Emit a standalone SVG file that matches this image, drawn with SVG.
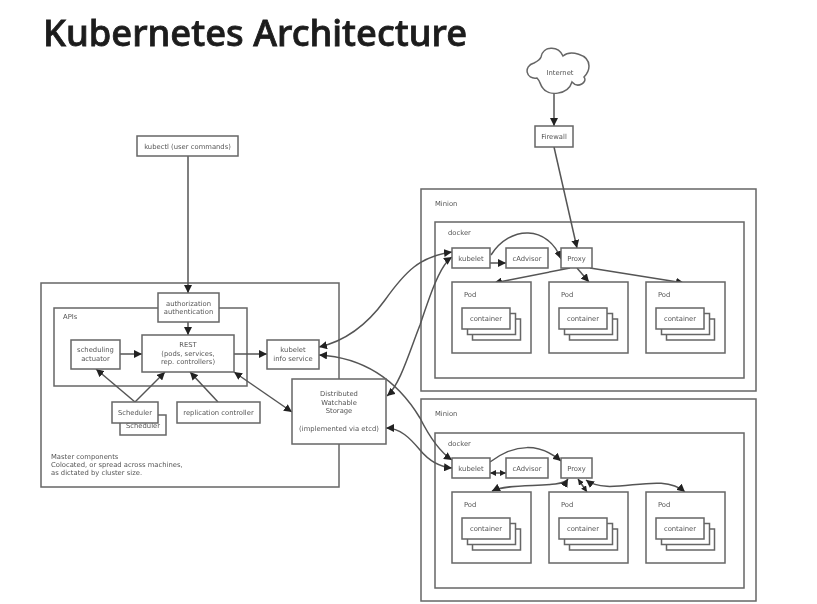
<svg xmlns="http://www.w3.org/2000/svg" width="817" height="604" viewBox="0 0 817 604">
<defs>
<style>
.b{fill:#fff;stroke:#666;stroke-width:1.5}
.c{fill:none;stroke:#555;stroke-width:1.5}
.e{marker-end:url(#a)}
.d{marker-start:url(#a);marker-end:url(#a)}
.f{marker-start:url(#h);marker-end:url(#h)}
text{font-family:"DejaVu Sans",sans-serif;font-size:6.8px;fill:#555}
.m{text-anchor:middle}
</style>
<marker id="a" markerUnits="userSpaceOnUse" markerWidth="10" markerHeight="8" refX="8" refY="4" orient="auto-start-reverse"><path d="M0,0L8,4L0,8Z" fill="#222"/></marker>
<marker id="h" markerUnits="userSpaceOnUse" markerWidth="8" markerHeight="7" refX="6" refY="3" orient="auto-start-reverse"><path d="M0,0L6,3L0,6Z" fill="#222"/></marker>
<filter id="s" filterUnits="userSpaceOnUse" x="0" y="0" width="817" height="604"><feGaussianBlur stdDeviation="0.6"/></filter>
<g id="stack"><rect class="b" x="10.500" y="11" width="48" height="21"/><rect class="b" x="5.500" y="5.500" width="48" height="21"/><rect class="b" x="0" y="0" width="48" height="21"/><text class="m" x="24" y="13">container</text></g>
</defs>
<rect width="817" height="604" fill="#fff"/>
<g filter="url(#s)">
<text id="title" x="43" y="46" style="font-family:'Noto Sans',sans-serif;font-size:36px;font-weight:500;fill:#1c1c1c;stroke:#1c1c1c;stroke-width:0.8" textLength="424" lengthAdjust="spacingAndGlyphs">Kubernetes Architecture</text>
<g id="master"><rect class="b" x="41" y="283" width="298" height="204"/><text x="51" y="458.500">Master components</text><text x="51" y="466.500">Colocated, or spread across machines,</text><text x="51" y="475">as dictated by cluster size.</text></g>
<g id="apis"><rect class="b" x="54" y="308" width="193" height="78"/><text x="63" y="319">APIs</text></g>
<g id="minion1"><rect class="b" x="421" y="189" width="335" height="202"/><text x="435" y="206">Minion</text></g>
<g id="docker1"><rect class="b" x="435" y="222" width="309" height="156"/><text x="448" y="235">docker</text></g>
<g id="minion2"><rect class="b" x="421" y="399" width="335" height="202"/><text x="435" y="416">Minion</text></g>
<g id="docker2"><rect class="b" x="435" y="433" width="309" height="155"/><text x="448" y="446">docker</text></g>
<g id="connectors">
<path class="c e" d="M554,93V126"/>
<path class="c e" d="M554,147L577,248"/>
<path class="c e" d="M188,156V293"/>
<path class="c e" d="M188,322V335"/>
<path class="c e" d="M120,354H142"/>
<path class="c e" d="M234,354H267"/>
<path class="c e" d="M135,402L96,369"/>
<path class="c e" d="M135,402L165,372"/>
<path class="c e" d="M218,402L190,372"/>
<path class="c d" d="M234,372L292,412"/>
<path class="c d" d="M319,347C350,340 372,318 385,300C405,272 420,256 452,252"/>
<path class="c d" d="M387,396C400,385 410,350 420,325C430,295 440,265 452,257"/>
<path class="c d" d="M319,355C370,358 400,385 420,418C430,438 440,452 452,460"/>
<path class="c d" d="M386,428C400,428 410,438 420,450C430,462 440,467 452,468"/>
<path class="c e" d="M490,263H506"/>
<path class="c e" d="M491,255C510,225 548,225 561,259"/>
<path class="c e" d="M570,268L494,283"/>
<path class="c e" d="M577,268L589,282"/>
<path class="c e" d="M590,268L684,283"/>
<path class="c f" d="M490,473H506"/>
<path class="c e" d="M490,462C515,443 540,443 561,461"/>
<path class="c d" d="M568,479C562,489 510,482 492,491"/>
<path class="c f" d="M578,479L587,492"/>
<path class="c d" d="M586,480C610,498 660,470 685,492"/>
</g>
<g id="auth"><rect class="b" x="158" y="293" width="61" height="29"/><text class="m" x="188.500" y="305.500">authorization</text><text class="m" x="188.500" y="314">authentication</text></g>
<g id="rest"><rect class="b" x="142" y="335" width="92" height="37"/><text class="m" x="188" y="347">REST</text><text class="m" x="188" y="355.500">(pods, services,</text><text class="m" x="188" y="364">rep. controllers)</text></g>
<g id="actuator"><rect class="b" x="71" y="340" width="49" height="29"/><text class="m" x="95.500" y="352">scheduling</text><text class="m" x="95.500" y="360.500">actuator</text></g>
<g id="kubelet-info"><rect class="b" x="267" y="340" width="52" height="29"/><text class="m" x="293" y="352">kubelet</text><text class="m" x="293" y="360.500">info service</text></g>
<g id="storage"><rect class="b" x="292" y="379" width="94" height="65"/><text class="m" x="339" y="396">Distributed</text><text class="m" x="339" y="405">Watchable</text><text class="m" x="339" y="413">Storage</text><text class="m" x="339" y="431">(implemented via etcd)</text></g>
<g id="scheduler2"><rect class="b" x="120" y="415" width="46" height="20"/><text class="m" x="143" y="427.500">Scheduler</text></g>
<g id="scheduler1"><rect class="b" x="112" y="402" width="46" height="21"/><text class="m" x="135" y="414.500">Scheduler</text></g>
<g id="replication"><rect class="b" x="177" y="402" width="83" height="21"/><text class="m" x="218.500" y="414.500">replication controller</text></g>
<g id="kubectl"><rect class="b" x="137" y="136" width="101" height="20"/><text class="m" x="187.500" y="148.500">kubectl (user commands)</text></g>
<g id="internet"><path class="b" d="M537,78C526,80 523,66 534,63C538,61 540,60 541,57C543,46 558,45 563,56C570,50 589,54 589,66C589,71 587,74 584,77C588,82 578,89 572,82C568,95 548,97 542,87C540,84 540,81 537,78Z"/><text class="m" x="560" y="75">Internet</text></g>
<g id="firewall"><rect class="b" x="535" y="126" width="38" height="21"/><text class="m" x="554" y="139">Firewall</text></g>
<g id="m1-kubelet"><rect class="b" x="452" y="248" width="38" height="20"/><text class="m" x="471" y="260.500">kubelet</text></g>
<g id="m1-cadvisor"><rect class="b" x="506" y="248" width="42" height="20"/><text class="m" x="527" y="260.500">cAdvisor</text></g>
<g id="m1-proxy"><rect class="b" x="561" y="248" width="31" height="20"/><text class="m" x="576.500" y="260.500">Proxy</text></g>
<g id="m1-pod1"><rect class="b" x="452" y="282" width="79" height="71"/><text x="464" y="297">Pod</text><use href="#stack" x="462" y="308"/></g>
<g id="m1-pod2"><rect class="b" x="549" y="282" width="79" height="71"/><text x="561" y="297">Pod</text><use href="#stack" x="559" y="308"/></g>
<g id="m1-pod3"><rect class="b" x="646" y="282" width="79" height="71"/><text x="658" y="297">Pod</text><use href="#stack" x="656" y="308"/></g>
<g id="m2-kubelet"><rect class="b" x="452" y="458" width="38" height="20"/><text class="m" x="471" y="470.500">kubelet</text></g>
<g id="m2-cadvisor"><rect class="b" x="506" y="458" width="42" height="20"/><text class="m" x="527" y="470.500">cAdvisor</text></g>
<g id="m2-proxy"><rect class="b" x="561" y="458" width="31" height="20"/><text class="m" x="576.500" y="470.500">Proxy</text></g>
<g id="m2-pod1"><rect class="b" x="452" y="492" width="79" height="71"/><text x="464" y="507">Pod</text><use href="#stack" x="462" y="518"/></g>
<g id="m2-pod2"><rect class="b" x="549" y="492" width="79" height="71"/><text x="561" y="507">Pod</text><use href="#stack" x="559" y="518"/></g>
<g id="m2-pod3"><rect class="b" x="646" y="492" width="79" height="71"/><text x="658" y="507">Pod</text><use href="#stack" x="656" y="518"/></g>
</g>
</svg>
